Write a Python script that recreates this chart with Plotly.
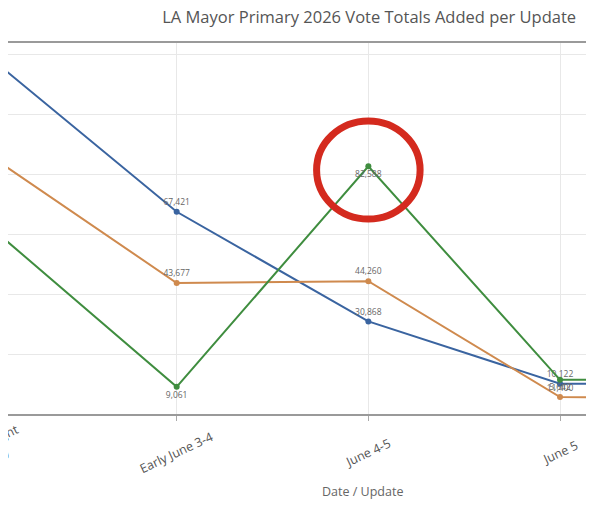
import plotly.graph_objects as go

categories = ["Election Night<br>(June 2)", "Early June 3-4", "June 4-5", "June 5", "June 6"]
tick_labels = ["Election Night<br>(June 2)", "Early June 3-4", "June 4-5", "June 5", "June 6"]
blue_votes = [120200, 67421, 30868, 10122, 10100]
orange_votes = [87219, 43677, 44260, 5642, 5400]
green_votes = [63900, 9061, 82588, 11400, 11500]

x_range = [0.12, 3.219]

series = [
    ("Candidate A", blue_votes, "#3a64a0", "top center"),
    ("Candidate B", orange_votes, "#cf8a4e", "top center"),
    ("Candidate C", green_votes, "#3f8d3f", "bottom center"),
]

fig = go.Figure()
for name, vals, color, pos in series:
    fig.add_trace(go.Scatter(
        x=categories, y=vals, name=name, mode="lines+markers+text",
        line=dict(color=color, width=2), marker=dict(color=color, size=6),
        texttemplate="%{y:,}", textposition=pos,
        textfont=dict(size=8.5, color="#666666"), showlegend=False,
    ))

# rotated category labels, centred under each tick (paper coords from the category index)
for i, lab in enumerate(tick_labels):
    xp = (i - x_range[0]) / (x_range[1] - x_range[0])
    fig.add_annotation(x=xp, xref="paper", y=-0.105, yref="paper", text=lab,
                       textangle=-25, showarrow=False, xanchor="center", yanchor="middle",
                       font=dict(size=12.5, color="#555555"))

fig.add_annotation(x=0.596, xref="paper", y=-0.237, yref="paper", text="Date / Update",
                   showarrow=False, font=dict(size=12.5, color="#666666"))

# red highlight circle around the June 4-5 spike
fig.add_shape(type="circle", xref="x", yref="y", x0=1.73, x1=2.27, y0=65000, y1=97700,
              line=dict(color="#d42a1e", width=7))

fig.update_layout(
    width=594, height=523,
    margin=dict(l=0, r=0, t=35, b=117, autoexpand=False),
    paper_bgcolor="white", plot_bgcolor="white",
    font=dict(family="Open Sans", color="#555555"),
    title=dict(text="LA Mayor Primary 2026 Vote Totals Added per Update", x=0.608, xanchor="center",
               y=0.983, yanchor="middle", font=dict(size=16.5, color="#555555")),
)
fig.update_xaxes(type="category", range=x_range, showticklabels=False,
                 ticks="outside", ticklen=5, tickcolor="#aaaaaa",
                 showgrid=True, gridcolor="#e8e8e8", showline=True, mirror=True,
                 linecolor="#9a9a9a", linewidth=1.5)
fig.update_yaxes(range=[0, 123700], dtick=20000, showticklabels=False, showgrid=True,
                 gridcolor="#e8e8e8", zeroline=False, showline=False)

fig.write_html("out.html")
